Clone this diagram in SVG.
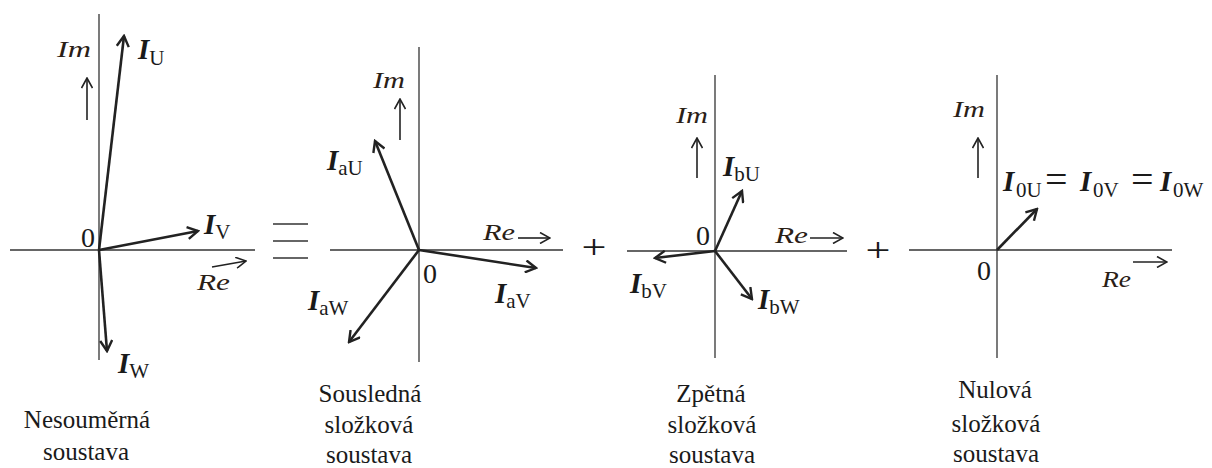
<svg xmlns="http://www.w3.org/2000/svg" width="1212" height="468" viewBox="0 0 1212 468">
<style>
.axis{stroke:#333;stroke-width:1.3;fill:none}
.vec{stroke:#222;stroke-width:2.6;fill:none;marker-end:url(#head)}
.dir{stroke:#222;stroke-width:1.6;fill:none;marker-end:url(#thin)}
.bar{stroke:#333;stroke-width:1.5}
text{font-family:'Liberation Serif','DejaVu Serif',serif;fill:#1a1a1a}
.I{font-size:29px;font-weight:bold;font-style:italic}
.sub{font-size:21px}
.ax{font-size:24px;font-style:italic;fill:#2a2016}
.zero{font-size:28px}
.op{font-size:40px}
.plus{font-size:34px;text-anchor:middle}
.cap{font-size:25px;text-anchor:middle}
</style>
<defs>
<marker id="head" viewBox="0 0 14 14" refX="12" refY="7" markerWidth="14" markerHeight="14" markerUnits="userSpaceOnUse" orient="auto">
<path d="M1.5,1 L12,7 L1.5,13" fill="none" stroke="#222" stroke-width="2.4"/>
</marker>
<marker id="thin" viewBox="0 0 12 12" refX="11" refY="6" markerWidth="12" markerHeight="12" markerUnits="userSpaceOnUse" orient="auto">
<path d="M1,0.5 L11,6 L1,11.5" fill="none" stroke="#222" stroke-width="1.6"/>
</marker>
</defs>

<g id="connectors">
<line class="axis" x1="99" y1="14" x2="99" y2="360"/>
<line class="axis" x1="10" y1="250" x2="255" y2="250"/>
<line class="vec" x1="99" y1="250" x2="124" y2="36"/>
<line class="vec" x1="99" y1="250" x2="198" y2="231"/>
<line class="vec" x1="99" y1="250" x2="107" y2="351"/>
<line class="dir" x1="87" y1="120" x2="87" y2="78"/>
<line class="dir" x1="212" y1="267" x2="246" y2="261"/>
<line class="axis" x1="419" y1="47" x2="419" y2="362"/>
<line class="axis" x1="330" y1="250" x2="563" y2="250"/>
<line class="vec" x1="419" y1="250" x2="375" y2="141"/>
<line class="vec" x1="419" y1="250" x2="536" y2="268"/>
<line class="vec" x1="419" y1="250" x2="349" y2="342"/>
<line class="dir" x1="400" y1="140" x2="400" y2="99"/>
<line class="dir" x1="518" y1="238" x2="550" y2="238"/>
<line class="axis" x1="715" y1="75" x2="715" y2="358"/>
<line class="axis" x1="627" y1="251" x2="847" y2="251"/>
<line class="vec" x1="715" y1="251" x2="742" y2="191"/>
<line class="vec" x1="715" y1="251" x2="655" y2="258"/>
<line class="vec" x1="715" y1="251" x2="752" y2="299"/>
<line class="dir" x1="697" y1="178" x2="697" y2="138"/>
<line class="dir" x1="810" y1="238" x2="843" y2="238"/>
<line class="axis" x1="997" y1="75" x2="997" y2="358"/>
<line class="axis" x1="909" y1="250" x2="1172" y2="250"/>
<line class="vec" x1="997" y1="250" x2="1037" y2="209"/>
<line class="dir" x1="978" y1="178" x2="978" y2="138"/>
<line class="dir" x1="1133" y1="262" x2="1167" y2="262"/>
</g>

<g id="nesoumerna">
<text class="ax" x="57" y="57" textLength="34" lengthAdjust="spacingAndGlyphs">Im</text>
<text class="ax" x="197" y="290" textLength="33" lengthAdjust="spacingAndGlyphs">Re</text>
<text class="zero" x="81" y="247">0</text>
<text x="138" y="59"><tspan class="I">I</tspan><tspan class="sub" dy="6">U</tspan></text>
<text x="204" y="234"><tspan class="I">I</tspan><tspan class="sub" dy="5">V</tspan></text>
<text x="118" y="373"><tspan class="I">I</tspan><tspan class="sub" dy="5">W</tspan></text>
<text class="cap" x="87" y="428">Nesouměrná</text>
<text class="cap" x="86" y="460">soustava</text>
</g>

<g id="equiv">
<line class="bar" x1="273" y1="224" x2="308" y2="224"/>
<line class="bar" x1="273" y1="241" x2="308" y2="241"/>
<line class="bar" x1="273" y1="258" x2="308" y2="258"/>
</g>

<g id="sousledna">
<text class="ax" x="373" y="88" textLength="32" lengthAdjust="spacingAndGlyphs">Im</text>
<text class="ax" x="483" y="240" textLength="32" lengthAdjust="spacingAndGlyphs">Re</text>
<text class="zero" x="423" y="283">0</text>
<text x="327" y="170"><tspan class="I">I</tspan><tspan class="sub" dy="5">aU</tspan></text>
<text x="495" y="303"><tspan class="I">I</tspan><tspan class="sub" dy="5">aV</tspan></text>
<text x="308" y="310"><tspan class="I">I</tspan><tspan class="sub" dy="5">aW</tspan></text>
<text class="cap" x="370" y="402">Sousledná</text>
<text class="cap" x="369" y="433">složková</text>
<text class="cap" x="369" y="463">soustava</text>
</g>

<g id="plus1"><text class="plus" transform="translate(594,257.5) scale(1.3,1)">+</text></g>

<g id="zpetna">
<text class="ax" x="676" y="123" textLength="32" lengthAdjust="spacingAndGlyphs">Im</text>
<text class="ax" x="775" y="243" textLength="33" lengthAdjust="spacingAndGlyphs">Re</text>
<text class="zero" x="696" y="245">0</text>
<text x="723" y="176"><tspan class="I">I</tspan><tspan class="sub" dy="5">bU</tspan></text>
<text x="630" y="293"><tspan class="I">I</tspan><tspan class="sub" dy="5">bV</tspan></text>
<text x="758" y="309"><tspan class="I">I</tspan><tspan class="sub" dy="5">bW</tspan></text>
<text class="cap" x="711" y="402">Zpětná</text>
<text class="cap" x="712" y="433">složková</text>
<text class="cap" x="712" y="463">soustava</text>
</g>

<g id="plus2"><text class="plus" transform="translate(878,260.5) scale(1.3,1)">+</text></g>

<g id="nulova">
<text class="ax" x="953" y="117" textLength="32" lengthAdjust="spacingAndGlyphs">Im</text>
<text class="ax" x="1102" y="287" textLength="29" lengthAdjust="spacingAndGlyphs">Re</text>
<text class="zero" x="977" y="280">0</text>
<text y="191"><tspan class="I" x="1003">I</tspan><tspan class="sub" x="1016" dy="6">0U</tspan><tspan class="op" x="1045" dy="-4">=</tspan><tspan class="I" x="1080" dy="-2">I</tspan><tspan class="sub" x="1093" dy="6">0V</tspan><tspan class="op" x="1131" dy="-4">=</tspan><tspan class="I" x="1160" dy="-2">I</tspan><tspan class="sub" x="1173" dy="6">0W</tspan></text>
<text class="cap" x="995" y="398">Nulová</text>
<text class="cap" x="996" y="432">složková</text>
<text class="cap" x="996" y="462">soustava</text>
</g>
</svg>
